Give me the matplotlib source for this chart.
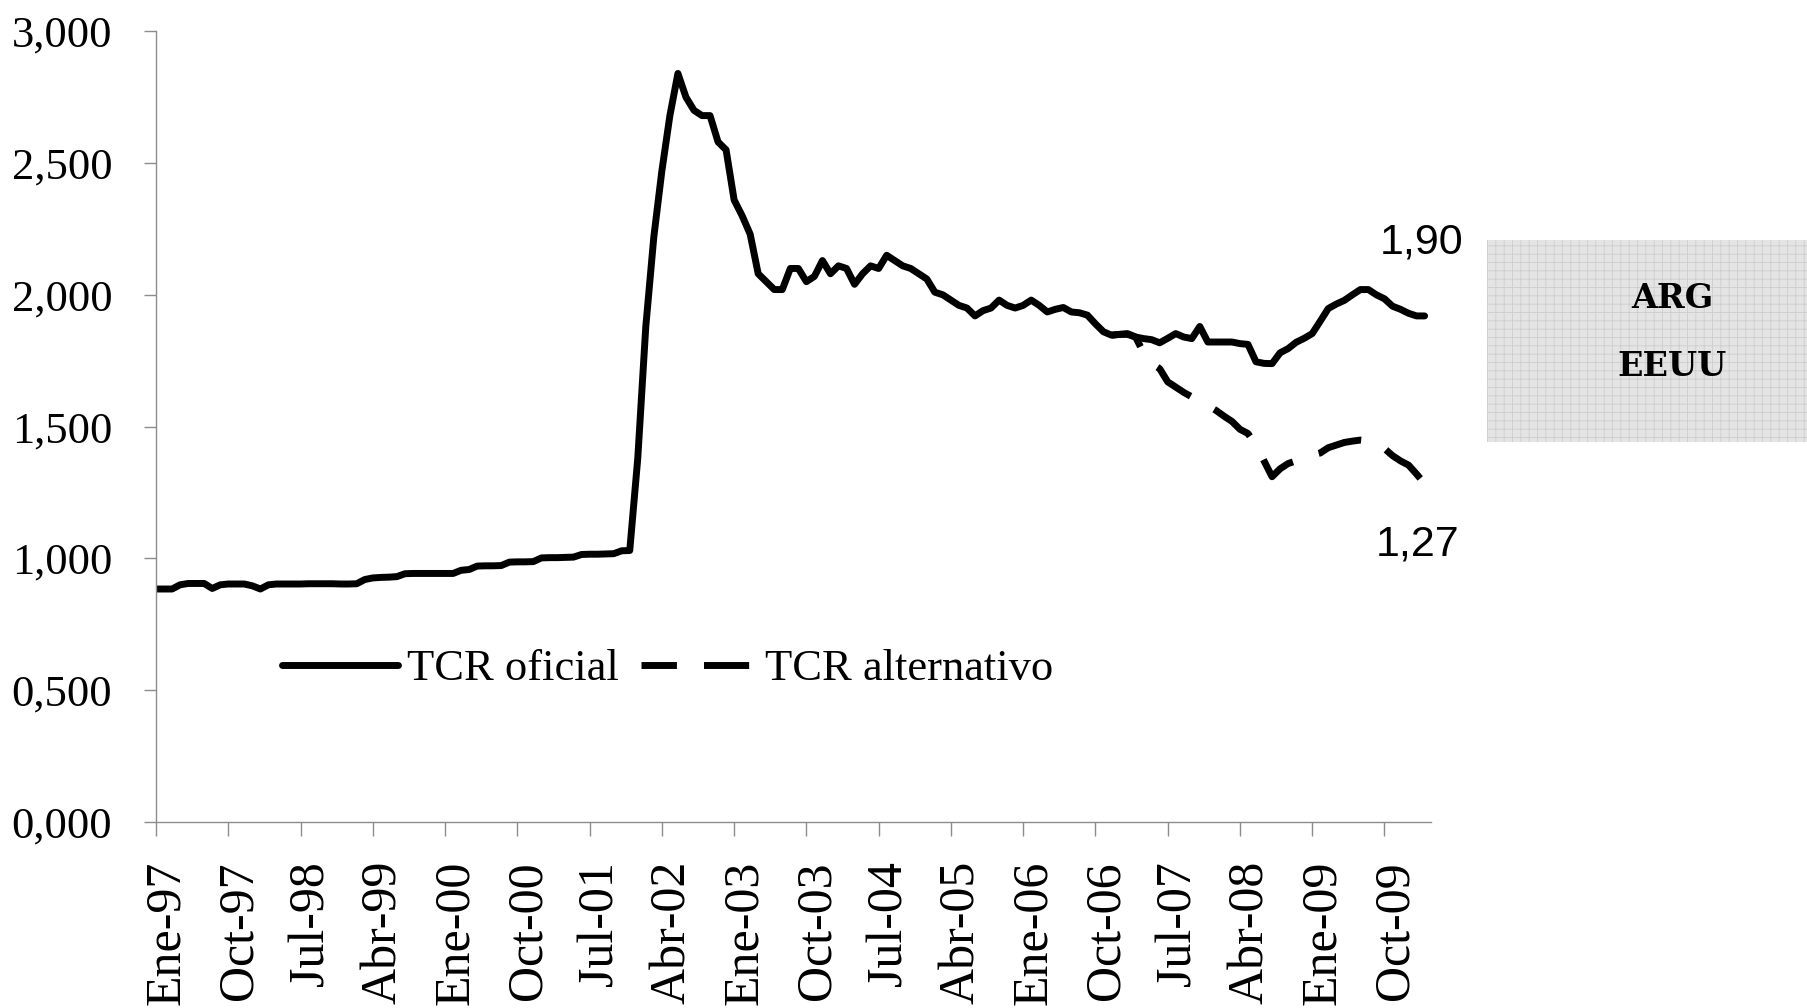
import matplotlib
matplotlib.use('Agg')
import matplotlib.pyplot as plt
import matplotlib.patches as patches
import matplotlib.transforms as mtransforms
import numpy as np

plt.rcParams['font.family'] = ['Liberation Serif', 'DejaVu Serif']
plt.rcParams['hatch.linewidth'] = 0.6

# TCR Argentina / EEUU, mensual desde Ene-97
tcr_oficial = [
    0.884, 0.884, 0.884, 0.900, 0.905, 0.905, 0.905, 0.886, 0.900, 0.903, 0.903, 0.903,
    0.896, 0.884, 0.900, 0.903, 0.903, 0.903, 0.903, 0.904, 0.904, 0.904, 0.904, 0.903,
    0.903, 0.904, 0.920, 0.926, 0.928, 0.929, 0.931, 0.942, 0.943, 0.943, 0.943, 0.943,
    0.943, 0.943, 0.955, 0.958, 0.971, 0.972, 0.972, 0.973, 0.986, 0.987, 0.987, 0.988,
    1.002, 1.003, 1.003, 1.004, 1.005, 1.015, 1.016, 1.016, 1.017, 1.018, 1.029, 1.030,
    1.38, 1.88, 2.22, 2.47, 2.68, 2.84, 2.75, 2.70, 2.68, 2.68, 2.58, 2.55,
    2.36, 2.30, 2.23, 2.08, 2.05, 2.02, 2.02, 2.10, 2.10, 2.05, 2.07, 2.13,
    2.08, 2.11, 2.10, 2.04, 2.08, 2.11, 2.10, 2.15, 2.13, 2.11, 2.10, 2.08,
    2.06, 2.01, 2.00, 1.98, 1.96, 1.95, 1.92, 1.94, 1.95, 1.98, 1.96, 1.95,
    1.96, 1.98, 1.96, 1.935, 1.945, 1.952, 1.935, 1.932, 1.923, 1.89, 1.86, 1.847,
    1.850, 1.853, 1.84, 1.834, 1.83, 1.818, 1.835, 1.853, 1.84, 1.834, 1.88, 1.821,
    1.821, 1.821, 1.821, 1.815, 1.812, 1.746, 1.740, 1.739, 1.78, 1.796, 1.82, 1.835,
    1.853, 1.90, 1.948, 1.965, 1.979, 2.00, 2.02, 2.02, 2.00, 1.985, 1.957, 1.945,
    1.93, 1.92, 1.92,
]

# serie alternativa, desde Dic-06 (mes 119)
alt_inicio = 119
tcr_alternativo = [
    1.847, 1.850, 1.850, 1.84, 1.78, 1.74, 1.72, 1.67, 1.65, 1.63, 1.613, 1.60,
    1.58, 1.562, 1.54, 1.52, 1.49, 1.474, 1.43, 1.37, 1.31, 1.34, 1.36, 1.37,
    1.38, 1.392, 1.40, 1.42, 1.43, 1.44, 1.445, 1.449, 1.446, 1.43, 1.417, 1.39,
    1.37, 1.354, 1.32, 1.284,
]

tick_labels = ['Ene-97', 'Oct-97', 'Jul-98', 'Abr-99', 'Ene-00', 'Oct-00', 'Jul-01',
               'Abr-02', 'Ene-03', 'Oct-03', 'Jul-04', 'Abr-05', 'Ene-06', 'Oct-06',
               'Jul-07', 'Abr-08', 'Ene-09', 'Oct-09']
y_ticks = [0.0, 0.5, 1.0, 1.5, 2.0, 2.5, 3.0]

fig = plt.figure(figsize=(18.08, 10.08), dpi=100)
ax = fig.add_axes([0.0863, 0.1845, 0.7052, 0.7845])

meses = np.arange(len(tcr_oficial))
meses_alt = np.arange(alt_inicio, alt_inicio + len(tcr_alternativo))

ax.plot(meses, tcr_oficial, color='black', lw=5,
        solid_capstyle='round', solid_joinstyle='round', label='TCR oficial')
ax.plot(meses_alt, tcr_alternativo, color='black', lw=5,
        linestyle=(1.4, (6.5, 3.9)), dash_capstyle='butt', label='TCR alternativo')

ax.set_xlim(0, 158.8)
ax.set_ylim(0, 3.0)

ax.set_xticks(range(0, 9 * len(tick_labels), 9))
ax.set_xticklabels(tick_labels, rotation=90, fontsize=36)
ax.set_yticks(y_ticks)
ax.set_yticklabels([f"{v:.3f}".replace('.', ',') for v in y_ticks], fontsize=32)

for side in ['top', 'right']:
    ax.spines[side].set_visible(False)
for side in ['left', 'bottom']:
    ax.spines[side].set_color('#8c8c8c')
    ax.spines[side].set_linewidth(1)

ax.tick_params(axis='x', length=10, width=1, color='#8c8c8c', pad=18)
ax.tick_params(axis='y', length=8.6, width=1, color='#8c8c8c', pad=23)

# correr un poco las etiquetas rotadas hacia la derecha (después de tick_params)
offset = mtransforms.ScaledTranslation(11 / 100, 0, fig.dpi_scale_trans)
for lbl in ax.get_xticklabels():
    lbl.set_transform(lbl.get_transform() + offset)

ax.legend(loc='center left', bbox_to_anchor=(0.099, 0.193), ncol=2, frameon=False,
          fontsize=32, handlelength=2.6, handletextpad=0.2, columnspacing=0.5,
          borderpad=0, borderaxespad=0)

# valores finales
ax.text(157.6, 2.2, '1,90', family='Liberation Sans', fontsize=31,
        ha='center', va='center', clip_on=False)
ax.text(157.1, 1.054, '1,27', family='Liberation Sans', fontsize=31,
        ha='center', va='center', clip_on=False)

# recuadro ARG / EEUU
caja = patches.Rectangle((1487 / 1808, 1 - 442 / 1008), (1808 - 1487) / 1808, 202 / 1008,
                         transform=fig.transFigure, facecolor='#e4e4e4',
                         edgecolor='#cdcdcd', hatch='++', lw=0)
fig.patches.append(caja)
fig.text(1672 / 1808, 1 - 299 / 1008, 'ARG', family='DejaVu Serif', fontweight='bold',
         fontsize=24, ha='center', va='center')
fig.text(1672 / 1808, 1 - 366 / 1008, 'EEUU', family='DejaVu Serif', fontweight='bold',
         fontsize=24, ha='center', va='center')

fig.savefig('out.png', dpi=100)
